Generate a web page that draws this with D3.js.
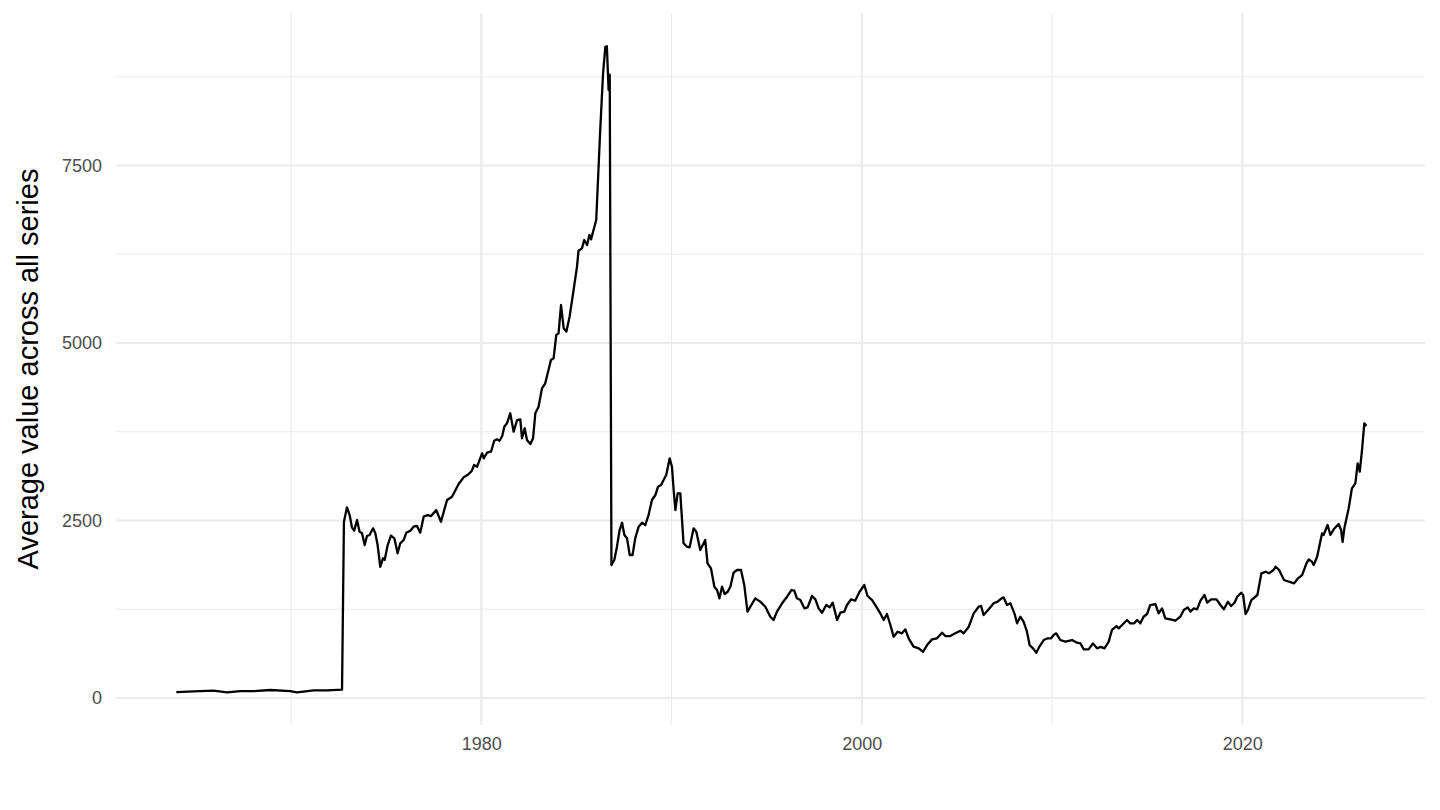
<!DOCTYPE html>
<html>
<head>
<meta charset="utf-8">
<script src="https://cdn.jsdelivr.net/npm/d3@7"></script>
<style>
  html, body { margin: 0; padding: 0; background: #fff; }
  svg { display: block; }
  text { font-family: "Liberation Sans", Arial, Helvetica, sans-serif; }
</style>
</head>
<body>
<svg id="chart" width="1440" height="810"></svg>
<script>
const years = [
  1963.97, 1964.88, 1965.93, 1966.63, 1967.33, 1968.03, 1968.91, 1969.96, 1970.31, 1971.19, 1971.89, 1972.68,
  1972.78, 1972.94, 1973.08, 1973.2, 1973.32, 1973.47, 1973.6, 1973.73, 1973.87, 1973.99,
  1974.13, 1974.31, 1974.43, 1974.55, 1974.69, 1974.83, 1974.92, 1975.08, 1975.25, 1975.43, 1975.6, 1975.74, 1975.92,
  1976.06, 1976.27, 1976.44, 1976.62, 1976.79, 1976.97, 1977.18, 1977.36, 1977.63, 1977.88,
  1978.2, 1978.46, 1978.81, 1979.07, 1979.28, 1979.5, 1979.62, 1979.78,
  1980.04, 1980.13, 1980.3, 1980.51, 1980.68, 1980.82, 1980.96, 1981.1, 1981.21, 1981.35, 1981.52, 1981.7, 1981.88,
  1982.05, 1982.14, 1982.28, 1982.4, 1982.58, 1982.72, 1982.84, 1983.01, 1983.19, 1983.36, 1983.49, 1983.66, 1983.8, 1983.94,
  1984.06, 1984.19, 1984.33, 1984.47, 1984.64, 1984.85, 1985.03, 1985.11, 1985.29, 1985.41, 1985.56, 1985.68, 1985.77, 1985.9,
  1986.04, 1986.25, 1986.4, 1986.52, 1986.6, 1986.69, 1986.75, 1986.84, 1986.99,
  1987.13, 1987.27, 1987.4, 1987.52, 1987.66, 1987.8, 1987.95, 1988.09, 1988.27, 1988.45, 1988.62, 1988.79, 1988.97,
  1989.15, 1989.29, 1989.45, 1989.58, 1989.72, 1989.9, 1990.02, 1990.11, 1990.2, 1990.32, 1990.46, 1990.63, 1990.81, 1990.95,
  1991.16, 1991.3, 1991.51, 1991.77, 1991.89, 1992.07, 1992.25, 1992.39, 1992.52, 1992.65, 1992.79, 1992.95,
  1993.09, 1993.26, 1993.44, 1993.65, 1993.82, 1993.99, 1994.14, 1994.4, 1994.66, 1994.93,
  1995.19, 1995.36, 1995.54, 1995.81, 1996.07, 1996.3, 1996.45, 1996.59, 1996.77, 1996.98,
  1997.15, 1997.38, 1997.56, 1997.73, 1997.91, 1998.13, 1998.31, 1998.47, 1998.7, 1998.87,
  1999.08, 1999.22, 1999.43, 1999.65, 1999.88, 2000.13, 2000.3, 2000.54, 2000.76, 2000.97,
  2001.15, 2001.32, 2001.5, 2001.67, 2001.88, 2002.11, 2002.29, 2002.46, 2002.72, 2002.99,
  2003.22, 2003.43, 2003.69, 2003.95, 2004.22, 2004.39, 2004.65, 2004.91, 2005.18, 2005.35, 2005.62, 2005.88,
  2006.14, 2006.27, 2006.4, 2006.67, 2006.93, 2007.14, 2007.28, 2007.45, 2007.63, 2007.81,
  2008.02, 2008.16, 2008.33, 2008.5, 2008.68, 2008.82, 2009.0, 2009.17, 2009.35, 2009.56, 2009.77, 2009.95,
  2010.08, 2010.22, 2010.43, 2010.7, 2011.05, 2011.31, 2011.49, 2011.66, 2011.92,
  2012.15, 2012.36, 2012.55, 2012.75, 2012.97, 2013.15, 2013.38, 2013.5, 2013.68, 2013.94,
  2014.11, 2014.32, 2014.47, 2014.64, 2014.81, 2014.99, 2015.16, 2015.43, 2015.6, 2015.78, 2015.95,
  2016.22, 2016.48, 2016.74, 2016.92, 2017.13, 2017.27, 2017.45, 2017.62, 2017.8,
  2018.01, 2018.15, 2018.36, 2018.64, 2018.85, 2019.03, 2019.24, 2019.41, 2019.59, 2019.73, 2019.94,
  2020.04, 2020.17, 2020.29, 2020.47, 2020.79, 2021.0, 2021.23, 2021.4, 2021.64, 2021.75, 2021.93,
  2022.19, 2022.45, 2022.72, 2022.93, 2023.14, 2023.37, 2023.49, 2023.66, 2023.75, 2023.93,
  2024.19, 2024.27, 2024.48, 2024.63, 2024.8, 2025.06, 2025.19, 2025.27, 2025.36, 2025.59, 2025.76, 2025.94,
  2026.06, 2026.17, 2026.29, 2026.41, 2026.52
];
const values = [
  84, 94, 103, 80, 98, 98, 113, 98, 80, 108, 108, 117,
  2483, 2686, 2577, 2404, 2357, 2507, 2343, 2320, 2155, 2282,
  2296, 2390, 2320, 2155, 1849, 1968, 1944, 2155, 2286, 2249, 2038, 2179, 2225,
  2329, 2357, 2413, 2423, 2329, 2554, 2577, 2563, 2648, 2483,
  2789, 2835, 3014, 3108, 3141, 3200, 3282, 3258,
  3446, 3376, 3455, 3469, 3624, 3644, 3624, 3690, 3821, 3869, 4010, 3751, 3915,
  3925, 3658, 3799, 3634, 3577, 3658, 4010, 4103, 4362, 4432, 4573, 4761, 4784, 5113,
  5136, 5535, 5207, 5160, 5370, 5746, 6075, 6300, 6333, 6451, 6380, 6521, 6460, 6592,
  6732, 8000, 8798, 9173, 9180, 8563, 8780, 1873, 1944,
  2131, 2366, 2469, 2296, 2249, 2014, 2014, 2249, 2413, 2469, 2437, 2577, 2789,
  2859, 2976, 3000, 3070, 3141, 3376, 3258, 2930, 2648, 2883, 2883, 2179, 2131, 2122,
  2390, 2343, 2085, 2225, 1897, 1827, 1568, 1521, 1404, 1568, 1465, 1497,
  1568, 1765, 1803, 1803, 1592, 1216, 1286, 1404, 1357, 1286,
  1145, 1099, 1216, 1334, 1427, 1521, 1511, 1404, 1380, 1263,
  1277, 1437, 1390, 1263, 1202, 1310, 1277, 1342, 1099, 1202,
  1216, 1310, 1390, 1371, 1497, 1592, 1437, 1380, 1286, 1193,
  1099, 1183, 1028, 864, 934, 911, 967, 841, 723, 700,
  652, 746, 826, 841, 920, 873, 873, 911, 948, 911, 1004, 1193,
  1286, 1296, 1169, 1249, 1334, 1357, 1390, 1418, 1310, 1334,
  1193, 1052, 1145, 1075, 934, 746, 700, 638, 732, 817, 841, 841,
  887, 911, 817, 793, 817, 779, 770, 686, 686,
  770, 700, 720, 700, 790, 960, 1014, 981, 1028, 1099,
  1052, 1052, 1099, 1052, 1145, 1183, 1310, 1324, 1193, 1263, 1122,
  1108, 1089, 1145, 1239, 1277, 1216, 1263, 1249, 1371,
  1451, 1342, 1390, 1390, 1310, 1249, 1357, 1296, 1342, 1427, 1483,
  1451, 1183, 1239, 1380, 1451, 1756, 1779, 1756, 1803, 1849, 1803,
  1662, 1638, 1615, 1686, 1732, 1897, 1953, 1920, 1873, 1990,
  2320, 2296, 2437, 2296, 2376, 2451, 2366, 2201, 2390, 2672, 2954, 3024,
  3306, 3188, 3493, 3869, 3831
];
const xMajorTicks = [1980, 2000, 2020];
const xMinorTicks = [1970, 1990, 2010];
const yMajorTicks = [0, 2500, 5000, 7500];
const yMinorTicks = [1250, 3750, 6250, 8750];
const yTitle = "Average value across all series";

const data = years.map((y, i) => ({ year: y, value: values[i] }));

const svg = d3.select("#chart");
const panel = { left: 116, right: 1425, top: 13, bottom: 725 };

const x = d3.scaleLinear().domain([1960.8, 2029.6]).range([panel.left, panel.right]);
const y = d3.scaleLinear().domain([-380, 9648]).range([panel.bottom, panel.top]);

const grid = svg.append("g");
grid.selectAll(".ymin").data(yMinorTicks).join("line")
  .attr("x1", panel.left).attr("x2", panel.right)
  .attr("y1", d => y(d)).attr("y2", d => y(d))
  .attr("stroke", "#EBEBEB").attr("stroke-width", 1.1);
grid.selectAll(".xmin").data(xMinorTicks).join("line")
  .attr("y1", panel.top).attr("y2", panel.bottom)
  .attr("x1", d => x(d)).attr("x2", d => x(d))
  .attr("stroke", "#EBEBEB").attr("stroke-width", 1.1);
grid.selectAll(".ymaj").data(yMajorTicks).join("line")
  .attr("x1", panel.left).attr("x2", panel.right)
  .attr("y1", d => y(d)).attr("y2", d => y(d))
  .attr("stroke", "#EBEBEB").attr("stroke-width", 2.2);
grid.selectAll(".xmaj").data(xMajorTicks).join("line")
  .attr("y1", panel.top).attr("y2", panel.bottom)
  .attr("x1", d => x(d)).attr("x2", d => x(d))
  .attr("stroke", "#EBEBEB").attr("stroke-width", 2.2);

const line = d3.line().x(d => x(d.year)).y(d => y(d.value));
svg.append("path").datum(data)
  .attr("d", line)
  .attr("fill", "none")
  .attr("stroke", "#000")
  .attr("stroke-width", 2.3)
  .attr("stroke-linejoin", "round");

const xAxis = svg.append("g").attr("transform", `translate(0,${panel.bottom + 6})`)
  .call(d3.axisBottom(x).tickValues(xMajorTicks).tickFormat(d3.format("d")).tickSize(0).tickPadding(6));
const yAxis = svg.append("g").attr("transform", `translate(${panel.left - 6},0)`)
  .call(d3.axisLeft(y).tickValues(yMajorTicks).tickFormat(d3.format("d")).tickSize(0).tickPadding(8));
[xAxis, yAxis].forEach(g => {
  g.select(".domain").remove();
  g.selectAll("text").attr("fill", "#4D4D4D").style("font-size", "18px")
    .style("font-family", '"Liberation Sans", Arial, sans-serif');
});

svg.append("text")
  .attr("transform", `translate(38,${(panel.top + panel.bottom) / 2}) rotate(-90)`)
  .attr("text-anchor", "middle")
  .attr("fill", "#000")
  .style("font-size", "29px")
  .text(yTitle);
</script>
</body>
</html>
